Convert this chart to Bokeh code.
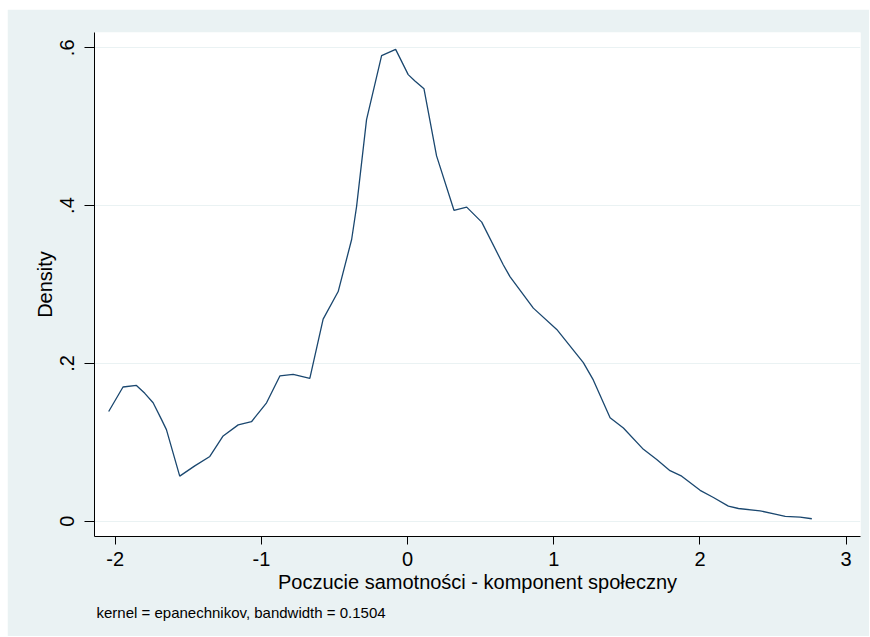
from bokeh.plotting import figure
from bokeh.models import FixedTicker, CustomJSTickFormatter, Range1d, Title
from bokeh.embed import file_html
from bokeh.resources import INLINE

# Kernel density estimate
x_vals = [-2.045, -1.947, -1.855, -1.798, -1.741, -1.684, -1.650, -1.559, -1.456, -1.353,
          -1.262, -1.159, -1.068, -0.965, -0.874, -0.783, -0.669, -0.578, -0.475, -0.383,
          -0.349, -0.281, -0.178, -0.082, 0.004, 0.050, 0.112, 0.198, 0.317, 0.404,
          0.507, 0.654, 0.700, 0.860, 1.020, 1.202, 1.270, 1.385, 1.476, 1.613,
          1.704, 1.795, 1.875, 2.001, 2.092, 2.194, 2.263, 2.411, 2.514, 2.583,
          2.685, 2.765]
density = [0.139, 0.170, 0.172, 0.162, 0.150, 0.129, 0.116, 0.057, 0.070, 0.082,
           0.108, 0.122, 0.126, 0.150, 0.184, 0.186, 0.181, 0.256, 0.291, 0.357,
           0.399, 0.509, 0.590, 0.598, 0.566, 0.558, 0.548, 0.463, 0.394, 0.398,
           0.379, 0.325, 0.310, 0.270, 0.243, 0.201, 0.179, 0.131, 0.118, 0.091,
           0.078, 0.064, 0.057, 0.039, 0.030, 0.019, 0.016, 0.013, 0.009, 0.006,
           0.005, 0.003]

x_ticks = [-2, -1, 0, 1, 2, 3]
y_ticks = [0, 0.2, 0.4, 0.6]
x_title = "Poczucie samotności - komponent społeczny"
y_title = "Density"
note = "kernel = epanechnikov, bandwidth = 0.1504"

BG = "#EAF2F3"
LINE = "#1A476F"
FONT = "Liberation Sans"

p = figure(width=862, height=627, output_backend="svg", toolbar_location=None,
           x_range=Range1d(-2.142, 3.098), y_range=Range1d(-0.0195, 0.6194),
           min_border_left=87, min_border_right=9, min_border_top=23, min_border_bottom=100)
p.margin = (9, 0, 0, 7)
p.background_fill_color = "white"
p.border_fill_color = BG
p.outline_line_color = None

p.line(x_vals, density, line_color=LINE, line_width=1.3)

# grid
p.xgrid.visible = False
p.ygrid.grid_line_color = BG
p.ygrid.grid_line_width = 1.2
p.ygrid.ticker = FixedTicker(ticks=y_ticks)

# x axis
xa = p.xaxis[0]
xa.ticker = FixedTicker(ticks=x_ticks)
xa.formatter = CustomJSTickFormatter(code="return tick.toFixed(0);")
xa.axis_label = x_title
xa.axis_label_text_font = FONT
xa.axis_label_text_font_size = "20px"
xa.axis_label_text_font_style = "normal"
xa.axis_label_text_color = "#000000"
xa.axis_label_standoff = 2
xa.major_label_text_font = FONT
xa.major_label_text_font_size = "20px"
xa.major_label_text_color = "#000000"
xa.major_label_standoff = 7
xa.major_tick_in = 0
xa.major_tick_out = 8
xa.minor_tick_line_color = None
xa.axis_line_color = "#000000"
xa.major_tick_line_color = "#000000"

# y axis
ya = p.yaxis[0]
ya.ticker = FixedTicker(ticks=y_ticks)
ya.formatter = CustomJSTickFormatter(code="""
    if (Math.abs(tick) < 1e-9) return "0";
    return tick.toFixed(1).replace(/^0/, "");
""")
ya.major_label_orientation = "vertical"
ya.axis_label = y_title
ya.axis_label_text_font = FONT
ya.axis_label_text_font_size = "20px"
ya.axis_label_text_font_style = "normal"
ya.axis_label_text_color = "#000000"
ya.axis_label_standoff = 2
ya.major_label_text_font = FONT
ya.major_label_text_font_size = "20px"
ya.major_label_text_color = "#000000"
ya.major_label_standoff = 10
ya.major_tick_in = 0
ya.major_tick_out = 10
ya.minor_tick_line_color = None
ya.axis_line_color = "#000000"
ya.major_tick_line_color = "#000000"

p.add_layout(Title(text=note, align="left", text_font=FONT, text_font_size="15px",
                   text_font_style="normal", text_color="#000000", offset=2, standoff=12),
             "below")

open("out.html", "w").write(file_html(p, INLINE))
